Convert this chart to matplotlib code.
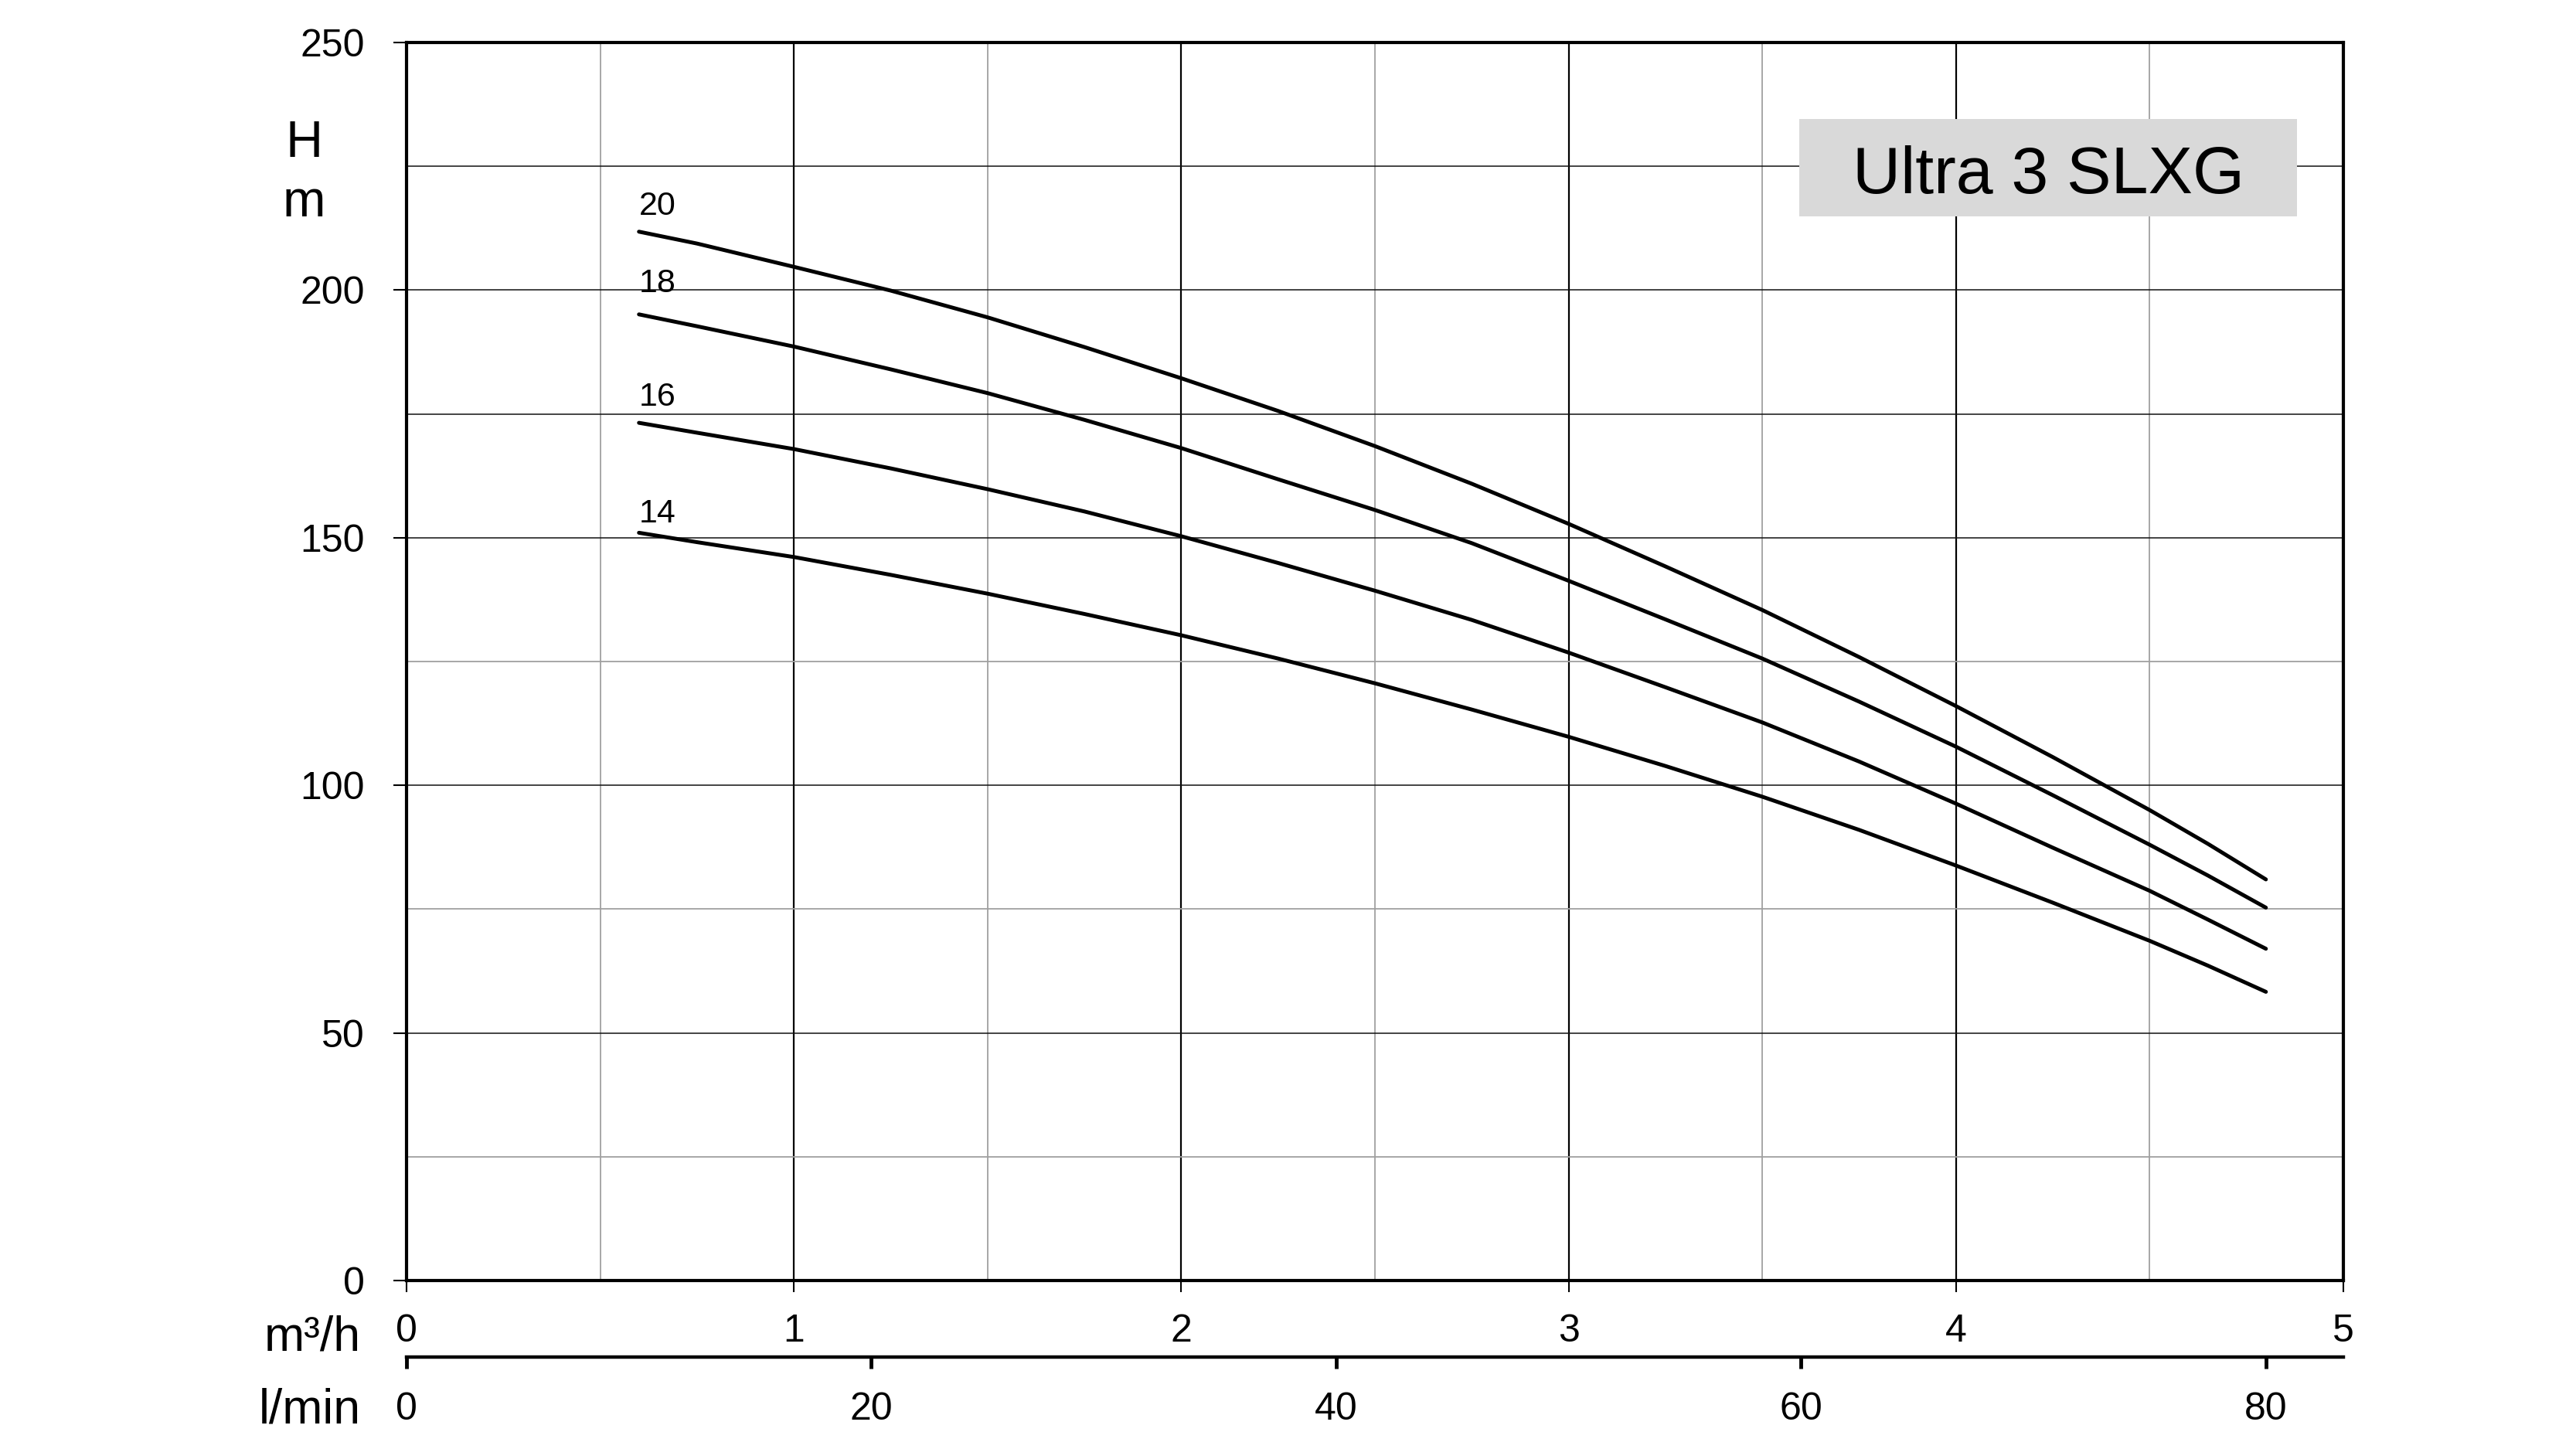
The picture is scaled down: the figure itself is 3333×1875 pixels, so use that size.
import matplotlib
matplotlib.use("Agg")
import matplotlib.pyplot as plt
from matplotlib.patches import Rectangle

plt.rcParams['font.family'] = ['Liberation Sans', 'DejaVu Sans']

# ---------------- data ----------------
flow_m3h = [0.6, 0.75, 1.0, 1.25, 1.5, 1.75, 2.0, 2.25, 2.5, 2.75,
            3.0, 3.25, 3.5, 3.75, 4.0, 4.25, 4.5, 4.65, 4.8]
stage_labels = ['20', '18', '16', '14']
head_20 = [211.8, 209.4, 204.7, 199.9, 194.5, 188.5, 182.2, 175.6, 168.5, 160.9,
           152.8, 144.2, 135.4, 125.9, 116.0, 105.7, 95.0, 88.2, 81.0]
head_18 = [195.1, 192.7, 188.6, 184.0, 179.2, 173.8, 168.1, 161.8, 155.6, 148.9,
           141.3, 133.5, 125.6, 116.9, 107.8, 98.0, 88.0, 81.8, 75.3]
head_16 = [173.2, 171.2, 167.9, 164.0, 159.8, 155.3, 150.3, 144.9, 139.3, 133.4,
           126.8, 119.8, 112.7, 104.8, 96.3, 87.4, 78.7, 72.9, 67.0]
head_14 = [151.0, 149.1, 146.1, 142.5, 138.7, 134.6, 130.3, 125.6, 120.6, 115.3,
           109.8, 103.9, 97.7, 91.0, 83.8, 76.3, 68.6, 63.6, 58.3]

y_ticks = [0, 50, 100, 150, 200, 250]
x_ticks_m3h = [0, 1, 2, 3, 4, 5]
x_ticks_lmin = [0, 20, 40, 60, 80]
title_text = 'Ultra 3 SLXG'
LMIN_PER_M3H = 1000.0 / 60.0

# ---------------- layout / style ----------------
label_y = [215.2, 199.6, 176.7, 153.1]
grid_black_y = [50, 100, 150, 175, 200, 225]
grid_gray_y = [25, 75, 125]
grid_black_x = [1, 2, 3, 4]
grid_gray_x = [0.5, 1.5, 2.5, 3.5, 4.5]

W, H = 3333, 1875
fig = plt.figure(figsize=(W / 100, H / 100), dpi=100)
ax = fig.add_axes([526 / W, 1 - 1657 / H, 2506 / W, 1602 / H])
ax.set_xlim(0, 5)
ax.set_ylim(0, 250)

for v in grid_gray_x:
    ax.axvline(v, color='#a0a0a0', lw=1.3, zorder=1)
for v in grid_black_x:
    ax.axvline(v, color='black', lw=1.6, zorder=1)
for v in grid_gray_y:
    ax.axhline(v, color='#a0a0a0', lw=1.3, zorder=1)
for v in grid_black_y:
    ax.axhline(v, color='#111111', lw=1.1, zorder=1)

heads = [head_20, head_18, head_16, head_14]
for lab, hs, ly in zip(stage_labels, heads, label_y):
    ax.plot(flow_m3h, hs, color='black', lw=3.6, solid_capstyle='round',
            solid_joinstyle='round', zorder=4)
    ax.text(flow_m3h[0], ly, lab, fontsize=31, ha='left', va='baseline', zorder=5)

# title box
ax.add_patch(Rectangle((3.595, 214.9), 4.880 - 3.595, 234.5 - 214.9,
                       facecolor='#d9d9d9', edgecolor='none', zorder=3))
ax.text(4.238, 219.6, title_text, fontsize=62, ha='center', va='baseline', zorder=5)

for s in ax.spines.values():
    s.set_linewidth(3)
    s.set_zorder(6)

ax.set_yticks(y_ticks)
ax.set_xticks(x_ticks_m3h)
ax.tick_params(axis='y', direction='out', length=12, width=1.5, pad=27, labelsize=36)
ax.tick_params(axis='x', direction='out', length=11, width=1.5, pad=20, labelsize=36)

# secondary l/min axis
secax = ax.secondary_xaxis(-0.0621, functions=(lambda q: q * LMIN_PER_M3H,
                                                lambda l: l / LMIN_PER_M3H))
secax.set_xticks(x_ticks_lmin)
secax.spines['bottom'].set_linewidth(3.2)
secax.tick_params(axis='x', direction='out', length=11, width=3.5, pad=21, labelsize=36)

# axis unit labels
fig.text(393.5 / W, 1 - 202.7 / H, 'H', fontsize=48, ha='center', va='baseline')
fig.text(393.5 / W, 1 - 280 / H, 'm', fontsize=48, ha='center', va='baseline')
fig.text(466.7 / W, 1 - 1747.7 / H, 'm³/h', fontsize=45, ha='right', va='baseline')
fig.text(466.7 / W, 1 - 1841 / H, 'l/min', fontsize=45, ha='right', va='baseline')

fig.savefig('out.png', dpi=100, facecolor='white')
